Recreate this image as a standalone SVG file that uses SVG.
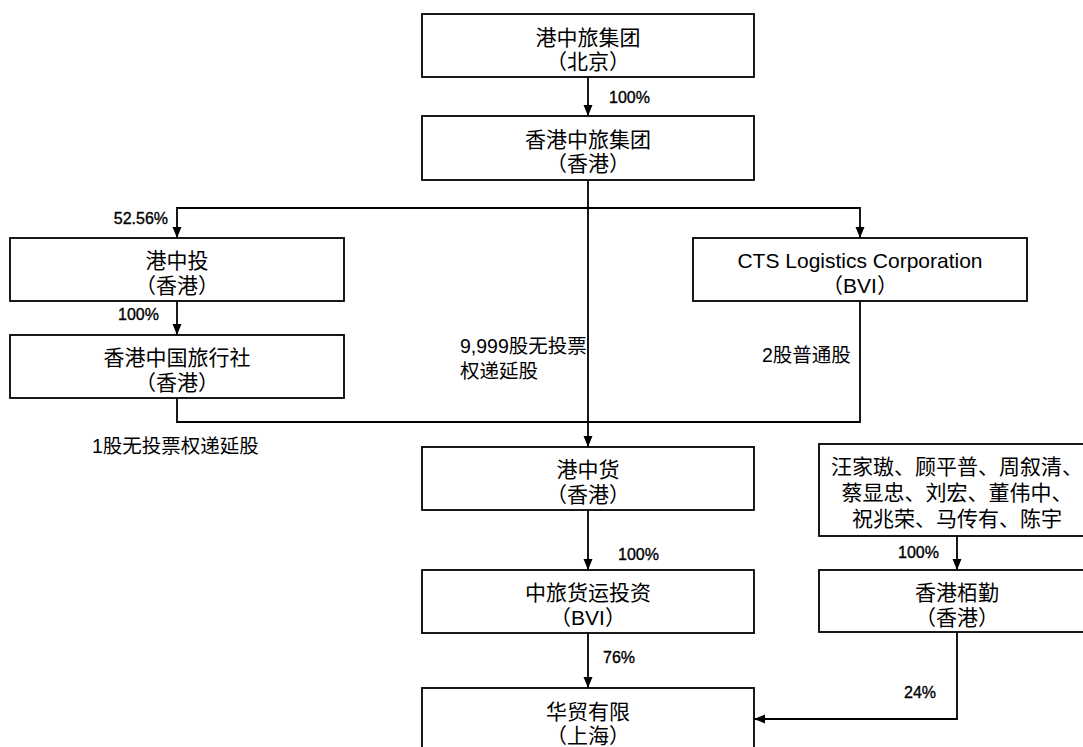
<svg xmlns="http://www.w3.org/2000/svg" width="1083" height="747" viewBox="0 0 1083 747">
<style>
.box{fill:#fff;stroke:#000;stroke-width:1.8}
.t{font-family:"Liberation Sans","Noto Sans CJK SC",sans-serif;font-size:21px;fill:#000;text-anchor:middle}
.p{font-family:"Liberation Sans","Noto Sans CJK SC",sans-serif;font-size:16px;fill:#000;stroke:#000;stroke-width:0.35}
.l{font-family:"Liberation Sans","Noto Sans CJK SC",sans-serif;font-size:19.5px;fill:#000}
.c{fill:none;stroke:#000;stroke-width:1.8}
</style>
<defs>
<marker id="ah" markerUnits="userSpaceOnUse" markerWidth="12" markerHeight="12" viewBox="0 0 12 12" refX="11" refY="6" orient="auto">
<path d="M0,1.5 L11,6 L0,10.5 Z" fill="#000"/>
</marker>
</defs>
<rect width="1083" height="747" fill="#fff"/>
<g id="connectors">
<path class="c" d="M588,77 V116" marker-end="url(#ah)"/>
<path class="c" d="M588,180 V447" marker-end="url(#ah)"/>
<path class="c" d="M588,208 H177 V238" marker-end="url(#ah)"/>
<path class="c" d="M588,208 H860 V238" marker-end="url(#ah)"/>
<path class="c" d="M177,301 V335" marker-end="url(#ah)"/>
<path class="c" d="M177,398 V422 H588"/>
<path class="c" d="M860,301 V422 H588"/>
<path class="c" d="M588,510 V570" marker-end="url(#ah)"/>
<path class="c" d="M588,633 V688" marker-end="url(#ah)"/>
<path class="c" d="M957,536 V570" marker-end="url(#ah)"/>
<path class="c" d="M957,632 V719 H754" marker-end="url(#ah)"/>
<text class="p" x="609" y="103">100%</text>
<text class="p" x="168" y="224" text-anchor="end">52.56%</text>
<text class="p" x="118" y="320">100%</text>
<text class="l" x="460" y="353">9,999股无投票</text>
<text class="l" x="460" y="378">权递延股</text>
<text class="l" x="762" y="362">2股普通股</text>
<text class="l" x="92" y="453">1股无投票权递延股</text>
<text class="p" x="618" y="560">100%</text>
<text class="p" x="603" y="663">76%</text>
<text class="p" x="898" y="558">100%</text>
<text class="p" x="904" y="698">24%</text>
</g>
<g id="n1"><rect class="box" x="422" y="14" width="332" height="63"/><text class="t" x="588" y="45">港中旅集团</text><text class="t" x="588" y="69">（北京）</text></g>
<g id="n2"><rect class="box" x="422" y="116" width="332" height="64"/><text class="t" x="588" y="147">香港中旅集团</text><text class="t" x="588" y="171">（香港）</text></g>
<g id="n3"><rect class="box" x="10" y="238" width="334" height="63"/><text class="t" x="177" y="268">港中投</text><text class="t" x="177" y="293">（香港）</text></g>
<g id="n4"><rect class="box" x="693" y="238" width="334" height="63"/><text class="t" x="860" y="268">CTS Logistics Corporation</text><text class="t" x="860" y="293">（BVI）</text></g>
<g id="n5"><rect class="box" x="10" y="335" width="334" height="63"/><text class="t" x="177" y="365">香港中国旅行社</text><text class="t" x="177" y="390">（香港）</text></g>
<g id="n6"><rect class="box" x="422" y="447" width="332" height="63"/><text class="t" x="588" y="477">港中货</text><text class="t" x="588" y="502">（香港）</text></g>
<g id="n7"><rect class="box" x="819" y="444" width="275" height="92"/><text class="t" x="957" y="474">汪家璈、顾平普、周叙清、</text><text class="t" x="957" y="500">蔡显忠、刘宏、董伟中、</text><text class="t" x="957" y="526">祝兆荣、马传有、陈宇</text></g>
<g id="n8"><rect class="box" x="422" y="570" width="332" height="63"/><text class="t" x="588" y="600">中旅货运投资</text><text class="t" x="588" y="625">（BVI）</text></g>
<g id="n9"><rect class="box" x="819" y="570" width="275" height="62"/><text class="t" x="957" y="600">香港栢勤</text><text class="t" x="957" y="625">（香港）</text></g>
<g id="n10"><rect class="box" x="422" y="688" width="332" height="70"/><text class="t" x="588" y="719">华贸有限</text><text class="t" x="588" y="743">（上海）</text></g>
</svg>
